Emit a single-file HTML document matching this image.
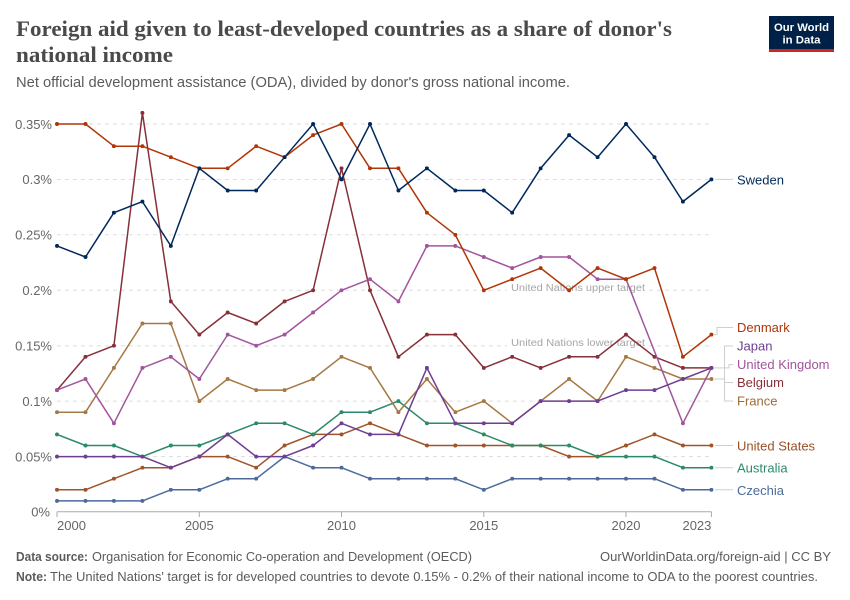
<!DOCTYPE html>
<html>
<head>
<meta charset="utf-8">
<style>
html,body{margin:0;padding:0;background:#fff;}
svg{display:block;}
text{font-family:"Liberation Sans",sans-serif;}
.serif{font-family:"Liberation Serif",serif;}
</style>
</head>
<body>
<svg width="850" height="600" viewBox="0 0 850 600" xmlns="http://www.w3.org/2000/svg">
<defs>
<marker id="mSw" viewBox="0 0 6 6" refX="3" refY="3" markerWidth="4" markerHeight="4" markerUnits="userSpaceOnUse"><circle cx="3" cy="3" r="3" fill="#00295b"/></marker>
<marker id="mDk" viewBox="0 0 6 6" refX="3" refY="3" markerWidth="4" markerHeight="4" markerUnits="userSpaceOnUse"><circle cx="3" cy="3" r="3" fill="#b13507"/></marker>
<marker id="mBe" viewBox="0 0 6 6" refX="3" refY="3" markerWidth="4" markerHeight="4" markerUnits="userSpaceOnUse"><circle cx="3" cy="3" r="3" fill="#883039"/></marker>
<marker id="mUk" viewBox="0 0 6 6" refX="3" refY="3" markerWidth="4" markerHeight="4" markerUnits="userSpaceOnUse"><circle cx="3" cy="3" r="3" fill="#a2559c"/></marker>
<marker id="mFr" viewBox="0 0 6 6" refX="3" refY="3" markerWidth="4" markerHeight="4" markerUnits="userSpaceOnUse"><circle cx="3" cy="3" r="3" fill="#a57844"/></marker>
<marker id="mJp" viewBox="0 0 6 6" refX="3" refY="3" markerWidth="4" markerHeight="4" markerUnits="userSpaceOnUse"><circle cx="3" cy="3" r="3" fill="#6d3e91"/></marker>
<marker id="mAu" viewBox="0 0 6 6" refX="3" refY="3" markerWidth="4" markerHeight="4" markerUnits="userSpaceOnUse"><circle cx="3" cy="3" r="3" fill="#2c8a67"/></marker>
<marker id="mUs" viewBox="0 0 6 6" refX="3" refY="3" markerWidth="4" markerHeight="4" markerUnits="userSpaceOnUse"><circle cx="3" cy="3" r="3" fill="#a0542a"/></marker>
<marker id="mCz" viewBox="0 0 6 6" refX="3" refY="3" markerWidth="4" markerHeight="4" markerUnits="userSpaceOnUse"><circle cx="3" cy="3" r="3" fill="#4c6a9c"/></marker>
</defs>

<!-- Title -->
<text class="serif" x="16" y="36" font-size="22.5" font-weight="bold" fill="#4a4a4a" textLength="656" lengthAdjust="spacingAndGlyphs">Foreign aid given to least-developed countries as a share of donor's</text>
<text class="serif" x="16" y="62" font-size="22.5" font-weight="bold" fill="#4a4a4a" textLength="157" lengthAdjust="spacingAndGlyphs">national income</text>
<text x="16" y="87" font-size="15" fill="#5b5b5b" textLength="554" lengthAdjust="spacingAndGlyphs">Net official development assistance (ODA), divided by donor's gross national income.</text>

<!-- Logo -->
<rect x="769" y="16" width="65" height="36" fill="#002147"/>
<rect x="769" y="49" width="65" height="3" fill="#ce261e"/>
<text x="801.5" y="31" font-size="11" font-weight="bold" fill="#fff" text-anchor="middle" textLength="55" lengthAdjust="spacingAndGlyphs">Our World</text>
<text x="801.5" y="43.5" font-size="11" font-weight="bold" fill="#fff" text-anchor="middle" textLength="38" lengthAdjust="spacingAndGlyphs">in Data</text>

<!-- Gridlines -->
<g stroke="#dddddd" stroke-width="1" stroke-dasharray="4,4">
<line x1="57" y1="124" x2="711" y2="124"/>
<line x1="57" y1="179.4" x2="711" y2="179.4"/>
<line x1="57" y1="234.8" x2="711" y2="234.8"/>
<line x1="57" y1="290.3" x2="711" y2="290.3"/>
<line x1="57" y1="345.7" x2="711" y2="345.7"/>
<line x1="57" y1="401.1" x2="711" y2="401.1"/>
<line x1="57" y1="456.6" x2="711" y2="456.6"/>
</g>

<!-- Y labels -->
<g font-size="13" fill="#666" text-anchor="end">
<text x="52" y="128.8">0.35%</text>
<text x="52" y="184.2">0.3%</text>
<text x="52" y="239.6">0.25%</text>
<text x="52" y="295.1">0.2%</text>
<text x="52" y="350.5">0.15%</text>
<text x="52" y="405.9">0.1%</text>
<text x="52" y="461.4">0.05%</text>
<text x="50" y="516.5">0%</text>
</g>

<!-- UN annotations -->
<rect x="507" y="284" width="141" height="9" fill="#fff"/>
<rect x="507" y="339" width="141" height="9" fill="#fff"/>
<text x="511" y="291" font-size="10.5" fill="#a6a6a6" textLength="134" lengthAdjust="spacingAndGlyphs">United Nations upper target</text>
<text x="511" y="346" font-size="10.5" fill="#a6a6a6" textLength="134" lengthAdjust="spacingAndGlyphs">United Nations lower target</text>

<!-- X axis -->
<line x1="57" y1="511.7" x2="711.4" y2="511.7" stroke="#aaa" stroke-width="1"/>
<g stroke="#aaa" stroke-width="1">
<line x1="57" y1="511.7" x2="57" y2="517"/>
<line x1="199.3" y1="511.7" x2="199.3" y2="517"/>
<line x1="341.5" y1="511.7" x2="341.5" y2="517"/>
<line x1="483.8" y1="511.7" x2="483.8" y2="517"/>
<line x1="626" y1="511.7" x2="626" y2="517"/>
<line x1="711.4" y1="511.7" x2="711.4" y2="517"/>
</g>
<g font-size="13" fill="#666">
<text x="57" y="530">2000</text>
<text x="199.3" y="530" text-anchor="middle">2005</text>
<text x="341.5" y="530" text-anchor="middle">2010</text>
<text x="483.8" y="530" text-anchor="middle">2015</text>
<text x="626" y="530" text-anchor="middle">2020</text>
<text x="711.4" y="530" text-anchor="end">2023</text>
</g>

<!-- Series -->
<g fill="none" stroke-width="1.5" stroke-linejoin="round">
<polyline stroke="#4c6a9c" marker-start="url(#mCz)" marker-mid="url(#mCz)" marker-end="url(#mCz)" points="57,500.9 85.5,500.9 113.9,500.9 142.4,500.9 170.8,489.8 199.3,489.8 227.7,478.7 256.2,478.7 284.6,456.6 313.1,467.7 341.5,467.7 370,478.7 398.4,478.7 426.9,478.7 455.3,478.7 483.8,489.8 512.2,478.7 540.7,478.7 569.1,478.7 597.6,478.7 626,478.7 654.5,478.7 682.9,489.8 711.4,489.8"/>
<polyline stroke="#a0542a" marker-start="url(#mUs)" marker-mid="url(#mUs)" marker-end="url(#mUs)" points="57,489.8 85.5,489.8 113.9,478.7 142.4,467.7 170.8,467.7 199.3,456.6 227.7,456.6 256.2,467.7 284.6,445.5 313.1,434.4 341.5,434.4 370,423.3 398.4,434.4 426.9,445.5 455.3,445.5 483.8,445.5 512.2,445.5 540.7,445.5 569.1,456.6 597.6,456.6 626,445.5 654.5,434.4 682.9,445.5 711.4,445.5"/>
<polyline stroke="#2c8a67" marker-start="url(#mAu)" marker-mid="url(#mAu)" marker-end="url(#mAu)" points="57,434.4 85.5,445.5 113.9,445.5 142.4,456.6 170.8,445.5 199.3,445.5 227.7,434.4 256.2,423.3 284.6,423.3 313.1,434.4 341.5,412.2 370,412.2 398.4,401.1 426.9,423.3 455.3,423.3 483.8,434.4 512.2,445.5 540.7,445.5 569.1,445.5 597.6,456.6 626,456.6 654.5,456.6 682.9,467.7 711.4,467.7"/>
<polyline stroke="#a57844" marker-start="url(#mFr)" marker-mid="url(#mFr)" marker-end="url(#mFr)" points="57,412.2 85.5,412.2 113.9,367.9 142.4,323.5 170.8,323.5 199.3,401.1 227.7,379 256.2,390.1 284.6,390.1 313.1,379 341.5,356.8 370,367.9 398.4,412.2 426.9,379 455.3,412.2 483.8,401.1 512.2,423.3 540.7,401.1 569.1,379 597.6,401.1 626,356.8 654.5,367.9 682.9,379 711.4,379"/>
<polyline stroke="#883039" marker-start="url(#mBe)" marker-mid="url(#mBe)" marker-end="url(#mBe)" points="57,390.1 85.5,356.8 113.9,345.7 142.4,112.9 170.8,301.4 199.3,334.6 227.7,312.5 256.2,323.5 284.6,301.4 313.1,290.3 341.5,168.3 370,290.3 398.4,356.8 426.9,334.6 455.3,334.6 483.8,367.9 512.2,356.8 540.7,367.9 569.1,356.8 597.6,356.8 626,334.6 654.5,356.8 682.9,367.9 711.4,367.9"/>
<polyline stroke="#a2559c" marker-start="url(#mUk)" marker-mid="url(#mUk)" marker-end="url(#mUk)" points="57,390.1 85.5,379 113.9,423.3 142.4,367.9 170.8,356.8 199.3,379 227.7,334.6 256.2,345.7 284.6,334.6 313.1,312.5 341.5,290.3 370,279.2 398.4,301.4 426.9,245.9 455.3,245.9 483.8,257 512.2,268.1 540.7,257 569.1,257 597.6,279.2 626,279.2 682.9,423.3 711.4,367.9"/>
<polyline stroke="#6d3e91" marker-start="url(#mJp)" marker-mid="url(#mJp)" marker-end="url(#mJp)" points="57,456.6 85.5,456.6 113.9,456.6 142.4,456.6 170.8,467.7 199.3,456.6 227.7,434.4 256.2,456.6 284.6,456.6 313.1,445.5 341.5,423.3 370,434.4 398.4,434.4 426.9,367.9 455.3,423.3 483.8,423.3 512.2,423.3 540.7,401.1 569.1,401.1 597.6,401.1 626,390.1 654.5,390.1 682.9,379 711.4,367.9"/>
<polyline stroke="#b13507" marker-start="url(#mDk)" marker-mid="url(#mDk)" marker-end="url(#mDk)" points="57,124 85.5,124 113.9,146.2 142.4,146.2 170.8,157.2 199.3,168.3 227.7,168.3 256.2,146.2 284.6,157.2 313.1,135.1 341.5,124 370,168.3 398.4,168.3 426.9,212.7 455.3,234.8 483.8,290.3 512.2,279.2 540.7,268.1 569.1,290.3 597.6,268.1 626,279.2 654.5,268.1 682.9,356.8 711.4,334.6"/>
<polyline stroke="#00295b" marker-start="url(#mSw)" marker-mid="url(#mSw)" marker-end="url(#mSw)" points="57,245.9 85.5,257 113.9,212.7 142.4,201.6 170.8,245.9 199.3,168.3 227.7,190.5 256.2,190.5 284.6,157.2 313.1,124 341.5,179.4 370,124 398.4,190.5 426.9,168.3 455.3,190.5 483.8,190.5 512.2,212.7 540.7,168.3 569.1,135.1 597.6,157.2 626,124 654.5,157.2 682.9,201.6 711.4,179.4"/>
</g>

<!-- Connectors -->
<g fill="none" stroke="#cfcfcf" stroke-width="1">
<path d="M715,179.4 H733"/>
<path d="M714,334.6 H717 V327.5 H733"/>
<path d="M714,367.9 H724.5"/>
<path d="M733,346 H724.5 V401 H733"/>
<path d="M724.5,382.5 H733"/>
<path d="M724.5,367.9 H729 V364.5 H733"/>
<path d="M714,379 H724.5"/>
<path d="M715,445.5 H733"/>
<path d="M715,467.7 H733"/>
<path d="M715,489.8 H733"/>
</g>

<!-- Series labels -->
<g font-size="13">
<text x="737" y="184.5" fill="#00295b">Sweden</text>
<text x="737" y="332" fill="#b13507">Denmark</text>
<text x="737" y="350.5" fill="#6d3e91">Japan</text>
<text x="737" y="369" fill="#a2559c">United Kingdom</text>
<text x="737" y="387" fill="#883039">Belgium</text>
<text x="737" y="405.3" fill="#9a6c38">France</text>
<text x="737" y="450.6" fill="#9a5129">United States</text>
<text x="737" y="472.6" fill="#2c8a67">Australia</text>
<text x="737" y="495" fill="#4c6a9c">Czechia</text>
</g>

<!-- Footer -->
<g font-size="12.5" fill="#5b5b5b">
<text x="16" y="561" font-weight="bold" textLength="72" lengthAdjust="spacingAndGlyphs">Data source:</text>
<text x="92" y="561" textLength="380" lengthAdjust="spacingAndGlyphs">Organisation for Economic Co-operation and Development (OECD)</text>
<text x="831" y="561" text-anchor="end" textLength="231" lengthAdjust="spacingAndGlyphs">OurWorldinData.org/foreign-aid | CC BY</text>
<text x="16" y="581" font-weight="bold" textLength="31" lengthAdjust="spacingAndGlyphs">Note:</text>
<text x="50" y="581" textLength="768" lengthAdjust="spacingAndGlyphs">The United Nations' target is for developed countries to devote 0.15% - 0.2% of their national income to ODA to the poorest countries.</text>
</g>
</svg>
</body>
</html>
